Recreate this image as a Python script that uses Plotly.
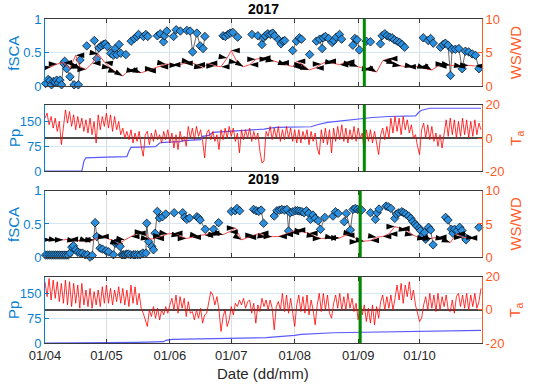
import plotly.graph_objects as go

# ---------------- data ----------------
month_ticks = [0, 30, 61, 91, 122, 153, 183]
month_labels = ['01/04', '01/05', '01/06', '01/07', '01/08', '01/09', '01/10']
year_titles = ['2017', '2019']
green_day_2017 = 156
green_day_2019 = 154

fsca17_day = [0.3, 1.6, 2.4, 3.2, 4.1, 4.9, 5.7, 6.5, 7.3, 8.1, 9.0, 9.6, 10.6, 12.2, 14.2, 16.3, 17.1,
              20.4, 24.1, 25.3, 26.4, 27.4, 28.5, 29.5, 30.5, 32.1, 33.4, 34.3, 35.1, 36.2, 37.0, 39.5,
              42.1, 43.7, 44.9, 45.7, 48.1, 49.3, 50.2, 54.9, 56.3, 57.9, 58.4, 59.5, 62.8, 64.1, 66.1,
              69.3, 70.9, 72.1, 74.2, 75.8, 77.2, 78.1, 87.0, 88.1, 89.4, 90.5, 91.8, 94.1, 101.1, 104.0,
              106.0, 106.8, 107.6, 108.8, 110.1, 111.2, 112.2, 114.2, 115.3, 116.3, 117.1, 121.0, 122.8,
              124.3, 125.3, 129.3, 132.6, 134.2, 135.4, 135.9, 137.0, 138.6, 140.3, 141.1, 142.3, 143.9,
              144.9, 150.4, 151.4, 152.5, 153.6, 157.0, 159.0, 163.9, 164.7, 166.0, 167.1, 168.4, 169.6,
              170.7, 172.0, 173.3, 174.4, 175.7, 184.8, 187.2, 188.4, 189.7, 193.2, 194.5, 195.6, 196.9,
              198.1, 198.9, 200.5, 202.2, 203.8, 205.4, 207.0, 208.7, 210.3, 212.0]
fsca17_val = [0.04, 0.10, 0.08, 0.02, 0.07, 0.06, 0.09, 0.05, 0.09, 0.02, 0.34, 0.37, 0.26, 0.14, 0.02, 0.02, 0.39,
              0.60, 0.68, 0.41, 0.57, 0.60, 0.62, 0.63, 0.59, 0.49, 0.46, 0.56, 0.47, 0.62, 0.49, 0.47,
              0.67, 0.71, 0.74, 0.77, 0.74, 0.77, 0.74, 0.75, 0.78, 0.66, 0.75, 0.82, 0.74, 0.84, 0.82,
              0.83, 0.82, 0.51, 0.79, 0.60, 0.56, 0.74, 0.75, 0.74, 0.77, 0.79, 0.80, 0.73, 0.77, 0.75,
              0.62, 0.72, 0.75, 0.78, 0.77, 0.79, 0.75, 0.69, 0.63, 0.67, 0.68, 0.53, 0.67,
              0.72, 0.70, 0.47, 0.67, 0.70, 0.56, 0.72, 0.74, 0.71, 0.65, 0.68, 0.73, 0.77,
              0.70, 0.61, 0.71, 0.69, 0.54, 0.67, 0.66, 0.63, 0.75, 0.78, 0.75, 0.73, 0.72,
              0.69, 0.67, 0.65, 0.62, 0.58, 0.72, 0.68, 0.71, 0.64, 0.58, 0.62, 0.64, 0.61,
              0.16, 0.55, 0.55, 0.56, 0.26, 0.52, 0.51, 0.48, 0.46, 0.26]

fsca19_day = [0.3, 1.3, 2.3, 3.3, 4.3, 5.3, 6.3, 7.3, 8.3, 9.3, 10.3, 11.3, 12.2, 13.1, 13.9, 15.0, 16.0, 17.1,
              18.3, 19.6, 20.8, 22.0, 23.1, 24.5, 25.3, 26.9, 28.1, 29.8, 31.0, 33.4, 34.3, 35.9, 36.7,
              37.5, 38.3, 39.1, 39.9, 40.7, 41.8, 43.2, 44.0, 45.2, 46.5, 47.8, 49.3, 49.7, 50.6, 52.2,
              53.0, 53.8, 54.9, 55.9, 57.4, 59.0, 63.1, 67.3, 68.2, 69.3, 70.6, 74.2, 75.0, 75.8, 78.3,
              82.4, 84.8, 91.0, 92.9, 93.8, 95.1, 101.9, 103.2, 104.4, 105.6, 106.8, 112.0, 113.3, 114.6,
              115.7, 117.0, 118.2, 119.0, 119.8, 121.0, 122.3, 123.4, 124.4, 125.5, 126.6, 127.7, 128.9,
              129.7, 130.9, 132.0, 133.5, 134.6, 136.7, 140.7, 141.9, 143.2, 146.2, 147.2, 149.2, 150.5,
              151.6, 152.7, 153.9, 154.7, 159.0, 161.4, 162.3, 163.2, 166.6, 167.7, 169.0, 170.9, 171.7,
              172.8, 174.3, 175.2, 176.3, 177.6, 178.7, 179.7, 180.8, 181.6, 182.9, 183.5, 184.6, 185.4,
              186.0, 187.4, 188.4, 189.6, 195.7, 196.9, 198.5, 199.3, 200.1, 201.4, 202.6, 203.7, 204.5,
              205.7, 212.0]
fsca19_val = [0.03, 0.03, 0.03, 0.03, 0.03, 0.03, 0.03, 0.03, 0.03, 0.03, 0.03, 0.03, 0.06, 0.15, 0.17, 0.11, 0.075, 0.06,
              0.06, 0.035, 0.035, 0.0, 0.025, 0.52, 0.31, 0.135, 0.12, 0.095, 0.08, 0.035, 0.21, 0.20, 0.16,
              0.035, 0.035, 0.035, 0.045, 0.045, 0.035, 0.035, 0.035, 0.035, 0.035, 0.06, 0.06, 0.51, 0.235, 0.16,
              0.11, 0.36, 0.69, 0.59, 0.61, 0.65, 0.67, 0.67, 0.60, 0.57, 0.59, 0.61, 0.59, 0.56, 0.42,
              0.42, 0.52, 0.69, 0.70, 0.735, 0.70, 0.72, 0.70, 0.69, 0.71, 0.51, 0.62, 0.70, 0.71,
              0.72, 0.71, 0.72, 0.395, 0.67, 0.685, 0.70, 0.70, 0.695, 0.685, 0.67, 0.70, 0.66,
              0.57, 0.635, 0.585, 0.55, 0.42, 0.60, 0.62, 0.685, 0.66, 0.535, 0.66, 0.41, 0.72,
              0.735, 0.72, 0.71, 0.71, 0.67, 0.57, 0.67, 0.725, 0.77, 0.76, 0.735, 0.585, 0.65,
              0.67, 0.685, 0.67, 0.65, 0.62, 0.585, 0.535, 0.50, 0.47, 0.435, 0.40, 0.335, 0.37,
              0.27, 0.45, 0.41, 0.185, 0.60, 0.56, 0.42, 0.36, 0.42, 0.40, 0.45, 0.40, 0.32,
              0.26, 0.45]

ws17_day = [0, 3, 6, 9, 12, 15, 17, 20, 23, 26, 29, 32, 35, 38, 41, 44, 47, 50, 53, 56, 59, 62, 65, 68, 71, 74,
            77, 80, 83, 86, 89, 91, 94, 97, 100, 103, 106, 109, 112, 115, 118, 121, 123, 126, 129, 132, 135,
            138, 141, 144, 147, 150, 153, 156, 159, 162, 165, 168, 171, 174, 177, 180, 183, 186, 189, 192,
            195, 198, 201, 204, 207, 210]
ws17_val = [2.5, 2.9, 3.3, 3.5, 2.6, 4.6, 2.9, 2.5, 3.4, 4.8, 3.6, 2.7, 2.0, 1.5, 2.4, 2.2, 2.0, 2.3, 2.6, 2.9,
            3.3, 3.2, 3.1, 3.4, 3.6, 3.2, 2.7, 3.4, 3.0, 2.9, 4.2, 5.3, 3.5, 2.9, 3.2, 4.0, 4.2, 4.0, 3.7,
            3.5, 3.1, 2.9, 3.7, 3.2, 2.4, 2.7, 3.3, 3.7, 3.4, 3.2, 3.6, 3.2, 2.9, 2.6, 2.4, 2.1, 3.8, 4.1,
            3.3, 3.0, 2.9, 2.9, 2.9, 2.6, 2.4, 3.0, 3.3, 3.1, 3.0, 2.9, 3.1, 3.0]
wd17_ang = [100, 80, 90, 270, 250, 270, 100, 90, 270, 100, 280, 100, 110, 120, 270, 100, 110, 270, 90, 270,
            100, 270, 90, 270, 100, 270, 100, 270, 90, 270, 100, 270, 100, 120, 270, 90, 270, 90, 100,
            270, 110, 270, 270, 90, 110, 270, 90, 270, 100, 270, 270, 100, 110, 270, 100, 120, 270, 270,
            110, 100, 270, 100, 270, 110, 120, 270, 90, 100, 270, 100, 90, 270]

ws19_day = [0, 3, 6, 9, 12, 15, 18, 21, 24, 27, 30, 33, 36, 39, 42, 45, 48, 51, 54, 57, 60, 63, 66, 69, 72, 75,
            78, 81, 84, 87, 90, 93, 96, 99, 102, 105, 108, 111, 114, 117, 120, 123, 126, 129, 132, 135, 138,
            141, 144, 147, 150, 153, 156, 159, 162, 165, 168, 171, 174, 177, 180, 183, 186, 189, 192, 195,
            198, 201, 204, 207, 210]
ws19_val = [2.6, 2.6, 2.5, 2.6, 2.7, 2.4, 2.6, 2.3, 2.6, 3.1, 2.9, 2.5, 1.9, 2.6, 3.1, 3.6, 3.8, 2.7, 2.8, 3.2,
            3.5, 3.6, 3.2, 2.8, 3.0, 3.2, 3.3, 3.6, 3.4, 3.4, 3.8, 4.4, 2.6, 3.0, 3.3, 3.6, 3.0, 3.1, 3.1,
            3.4, 3.7, 4.1, 3.8, 3.6, 3.1, 2.8, 2.9, 2.9, 2.9, 3.3, 3.5, 2.3, 2.4, 2.5, 3.0, 3.1, 3.5, 4.6,
            4.3, 4.0, 3.3, 2.9, 2.7, 2.8, 3.0, 2.7, 2.2, 3.5, 3.0, 2.9, 2.8]
wd19_ang = [90, 90, 100, 90, 270, 100, 270, 110, 90, 270, 100, 270, 110, 100, 270, 270, 90, 100, 270, 90,
            100, 270, 100, 90, 270, 100, 270, 270, 90, 100, 270, 90, 120, 270, 90, 270, 100, 90, 270,
            270, 270, 270, 100, 270, 100, 90, 270, 100, 90, 270, 100, 90, 100, 270, 100, 270, 270, 90,
            270, 100, 100, 270, 100, 90, 270, 100, 110, 270, 90, 270, 100]

pp17_day = [0, 18, 19, 20, 30, 40, 41, 42, 54, 56, 58, 66, 68, 76, 77, 80, 82, 91, 102, 107, 110, 113, 130,
            133, 138, 145, 153, 160, 168, 181, 183, 184, 188, 213]
pp17_val = [0, 0, 30, 40, 42, 44, 60, 72, 74, 85, 87, 89, 92, 95, 105, 108, 117, 120, 124, 127, 130, 132, 134,
            140, 147, 152, 157, 162, 165, 167, 180, 184, 190, 190]
pp19_day = [0, 23, 24, 45, 58, 59, 62, 75, 91, 108, 122, 125, 141, 155, 165, 197, 213]
pp19_val = [0, 0, 1, 2, 4, 8, 11, 13, 15, 16, 23, 26, 31, 32, 34, 37, 38]

ta17 = [12, 15, 8, 13, 6, 12, 4, 10, -4, 8,
        17, 9, 16, 7, 14, 5, 13, 6, 12, 4,
        11, 3, 12, 2, 10, -3, 14, 5, 13, 7,
        15, 6, 14, 4, 13, 5, 10, 2, 6, 0,
        4, -1, 5, -3, 3, -2, 4, -5, -11, 2,
        4, -4, 3, -2, 5, -1, 2, -3, 4, -1,
        5, -3, 3, -6, 2, -7, 4, -2, 1, -5,
        7, 0, 6, -1, 7, 1, 5, -2, -12, 3,
        5, -1, 4, -2, 2, -7, 5, -1, 6, 0,
        7, 1, 6, -2, 3, -9, 5, -1, 5, 0,
        6, -2, 4, -1, 3, -8, -15, -14, 4, 1,
        7, -1, 6, 0, 7, -2, 5, -1, 7, 0,
        6, -2, 5, -3, 5, -3, 4, -1, 5, -4,
        4, -2, 3, -6, -10, 5, -3, 6, -4, 5,
        -9, 6, -2, 7, -1, 8, -2, 6, -3, 5,
        -1, 7, -2, 6, 0, 3, -9, 5, -2, 5,
        -3, 4, -4, -10, 2, 6, -1, 7, 0, 12,
        3, 13, 4, 12, 2, 13, 5, 11, 3, 8,
        0, 2, -5, -10, 5, 9, 0, 8, -1, 7,
        -2, 3, -5, 2, -6, 4, 11, 1, 12, 2,
        11, 0, 10, 1, 12, 2, 11, 0, 10, 1,
        11, 2, 9, 5]
ta19 = [17, 8, 19, 6, 18, 7, 17, 5, 16, 4,
        18, 3, 17, 2, 16, 4, 15, 1, 16, 3,
        12, 2, 13, 1, 11, 3, 12, 2, 14, 4,
        15, 4, 13, 3, 12, 5, 14, 4, 13, 3,
        12, 2, 15, 4, 14, 3, 10, 1, -2, -6,
        -10, 0, -4, 2, -5, 1, -6, 0, -3, 2,
        -2, 3, 7, 0, 9, -2, 8, 1, 7, -4,
        5, -2, -1, -6, 0, -5, 1, -8, -3, -2,
        6, 11, 9, 3, 8, 0, -13, -4, 0, -10,
        -6, 2, -3, 4, 2, 6, 3, 7, 1, 5,
        6, -2, 4, -8, 3, -1, 7, 2, 6, 0,
        6, 1, -12, 2, 5, 0, 10, -1, 9, -2,
        7, -3, -10, 3, 9, -1, 8, -2, 9, -3,
        6, 0, -9, 3, 10, -1, 10, 0, 9, -2,
        -5, 4, 9, 1, 10, 0, 8, 0, 10, 1,
        7, -1, 4, -6, 5, -3, 3, -7, 1, -8,
        3, -9, 2, -5, 5, 9, 0, 8, 1, 9,
        0, 7, 15, 6, 16, 4, 15, 8, 17, 6,
        12, 3, -2, -7, -5, 3, 8, 0, 10, 1,
        9, -1, 10, 0, 8, 2, 9, 0, -1, 6,
        -2, 8, 10, 2, 9, 1, 10, 0, 9, 2,
        10, 1, 5, 13]

# ---------------- styling ----------------
FONT = 'Liberation Sans, Arial, sans-serif'
BLUE = '#0A7FD0'
ORANGE = '#FF5A1F'
FRAME = '#3A3A3A'
DIAMOND = '#2A8FDE'
GRID = '#DCDCDC'

XMAX = 213.5


def with_gaps(days, vals, maxgap=2.5):
    xs, ys = [], []
    for i, (d, v) in enumerate(zip(days, vals)):
        if i > 0 and d - days[i - 1] > maxgap:
            xs.append(None)
            ys.append(None)
        xs.append(d)
        ys.append(v)
    return xs, ys


fig = go.Figure()


def snow_panel(xa, ya_l, ya_r, fd, fv, wd, wv, wa):
    gx, gy = with_gaps(fd, fv)
    fig.add_trace(go.Scatter(x=gx, y=gy, xaxis=xa, yaxis=ya_l, mode='lines',
                             line=dict(color='#404040', width=0.8), hoverinfo='skip', showlegend=False))
    fig.add_trace(go.Scatter(x=fd, y=fv, xaxis=xa, yaxis=ya_l, mode='markers', cliponaxis=False,
                             marker=dict(symbol='diamond', size=6.5, color=DIAMOND,
                                         line=dict(color='black', width=0.7)), showlegend=False))
    fig.add_trace(go.Scatter(x=wd, y=wv, xaxis=xa, yaxis=ya_r, mode='lines',
                             line=dict(color='#FF4A4A', width=1), showlegend=False))
    fig.add_trace(go.Scatter(x=wd, y=wv, xaxis=xa, yaxis=ya_r, mode='markers',
                             marker=dict(symbol='arrow', size=9, color='black', angle=wa,
                                         line=dict(width=0)), showlegend=False))


def met_panel(xa, ya_l, ya_r, pd, pv, ta):
    fig.add_trace(go.Scatter(x=pd, y=pv, xaxis=xa, yaxis=ya_l, mode='lines',
                             line=dict(color='#5A5AFF', width=1.2), showlegend=False))
    fig.add_trace(go.Scatter(x=list(range(len(ta))), y=ta, xaxis=xa, yaxis=ya_r, mode='lines',
                             line=dict(color='#FF0000', width=0.8), showlegend=False))


snow_panel('x', 'y', 'y2', fsca17_day, fsca17_val, ws17_day, ws17_val, wd17_ang)
met_panel('x2', 'y3', 'y4', pp17_day, pp17_val, ta17)
snow_panel('x3', 'y5', 'y6', fsca19_day, fsca19_val, ws19_day, ws19_val, wd19_ang)
met_panel('x4', 'y7', 'y8', pp19_day, pp19_val, ta19)

domains = [[0.7927, 1.0], [0.5305, 0.7348], [0.2652, 0.4695], [0.0, 0.2043]]

layout = dict(width=533, height=385, margin=dict(l=45, r=51, t=15, b=42),
              paper_bgcolor='white', plot_bgcolor='white',
              font=dict(family=FONT, size=13, color='#262626'))

left_specs = [([0, 0.5, 1], ['0', '0.5', '1'], [0, 1]),
              ([0, 75, 150], ['0', '75', '150'], [0, 200]),
              ([0, 0.5, 1], ['0', '0.5', '1'], [0, 1]),
              ([0, 75, 150], ['0', '75', '150'], [0, 200])]
right_specs = [([0, 5, 10], ['0', '5', '10'], [0, 10], False),
               ([-20, 0, 20], ['-20', '0', '20'], [-20, 20], True),
               ([0, 5, 10], ['0', '5', '10'], [0, 10], False),
               ([-20, 0, 20], ['-20', '0', '20'], [-20, 20], True)]

for i in range(4):
    xname = 'xaxis' if i == 0 else 'xaxis%d' % (i + 1)
    yl = 2 * i + 1
    yr = 2 * i + 2
    ylname = 'yaxis' if yl == 1 else 'yaxis%d' % yl
    yrname = 'yaxis%d' % yr
    layout[xname] = dict(domain=[0, 1], anchor='y' if yl == 1 else 'y%d' % yl,
                         range=[0, XMAX], tickvals=month_ticks,
                         ticktext=month_labels, showticklabels=(i == 3),
                         showgrid=True, gridcolor=GRID, gridwidth=1, zeroline=False,
                         showline=True, linecolor=FRAME, linewidth=1, mirror='ticks',
                         ticks='inside', ticklen=4, tickcolor=FRAME,
                         tickfont=dict(size=13, color='#262626'))
    if i > 0:
        layout[xname]['matches'] = 'x'
    tv, tt, rg = left_specs[i]
    layout[ylname] = dict(domain=domains[i], anchor=xname.replace('axis', ''),
                          range=rg, tickvals=tv, ticktext=tt, showgrid=True,
                          gridcolor='#D6E6F2', gridwidth=1, zeroline=False,
                          showline=True, linecolor=BLUE, linewidth=1,
                          ticks='inside', ticklen=4, tickcolor=BLUE,
                          tickfont=dict(size=13, color=BLUE))
    tv, tt, rg, zl = right_specs[i]
    layout[yrname] = dict(overlaying='y' if yl == 1 else 'y%d' % yl, side='right',
                          anchor=xname.replace('axis', ''),
                          range=rg, tickvals=tv, ticktext=tt, showgrid=False,
                          zeroline=zl, zerolinecolor='#4A4A4A', zerolinewidth=1.5,
                          showline=True, linecolor=ORANGE, linewidth=1,
                          ticks='inside', ticklen=4, tickcolor=ORANGE,
                          tickfont=dict(size=13, color=ORANGE))

fig.update_layout(**layout)

# green vertical markers
for xa, ya, d in [('x', 'y', green_day_2017), ('x2', 'y3', green_day_2017),
                  ('x3', 'y5', green_day_2019), ('x4', 'y7', green_day_2019)]:
    fig.add_shape(type='line', xref=xa, yref=ya + ' domain', x0=d, x1=d, y0=0, y1=1,
                  line=dict(color='#008A00', width=3), layer='above')

ann = []
centers = [0.896, 0.6326, 0.3674, 0.102]
left_titles = ['fSCA', 'Pp', 'fSCA', 'Pp']
right_titles = ['WS/WD', 'T<sub>a</sub>', 'WS/WD', 'T<sub>a</sub>']
for c, lt, rt in zip(centers, left_titles, right_titles):
    ann.append(dict(text=lt, xref='paper', yref='paper', x=-0.071, y=c, textangle=-90,
                    showarrow=False, xanchor='center', yanchor='middle',
                    font=dict(size=15, color=BLUE)))
    ann.append(dict(text=rt, xref='paper', yref='paper', x=1.077, y=c, textangle=-90,
                    showarrow=False, xanchor='center', yanchor='middle',
                    font=dict(size=15, color=ORANGE)))
for t, yy in zip(year_titles, [1.032, 0.505]):
    ann.append(dict(text='<b>%s</b>' % t, xref='paper', yref='paper', x=0.5, y=yy,
                    showarrow=False, xanchor='center', yanchor='middle',
                    font=dict(size=14, color='black')))
ann.append(dict(text='Date (dd/mm)', xref='paper', yref='paper', x=0.499, y=-0.093,
                showarrow=False, xanchor='center', yanchor='middle',
                font=dict(size=15, color='#262626')))
fig.update_layout(annotations=ann)

fig.write_html('out.html', config={'displayModeBar': False},
               post_script="document.body.style.margin='0px';")
